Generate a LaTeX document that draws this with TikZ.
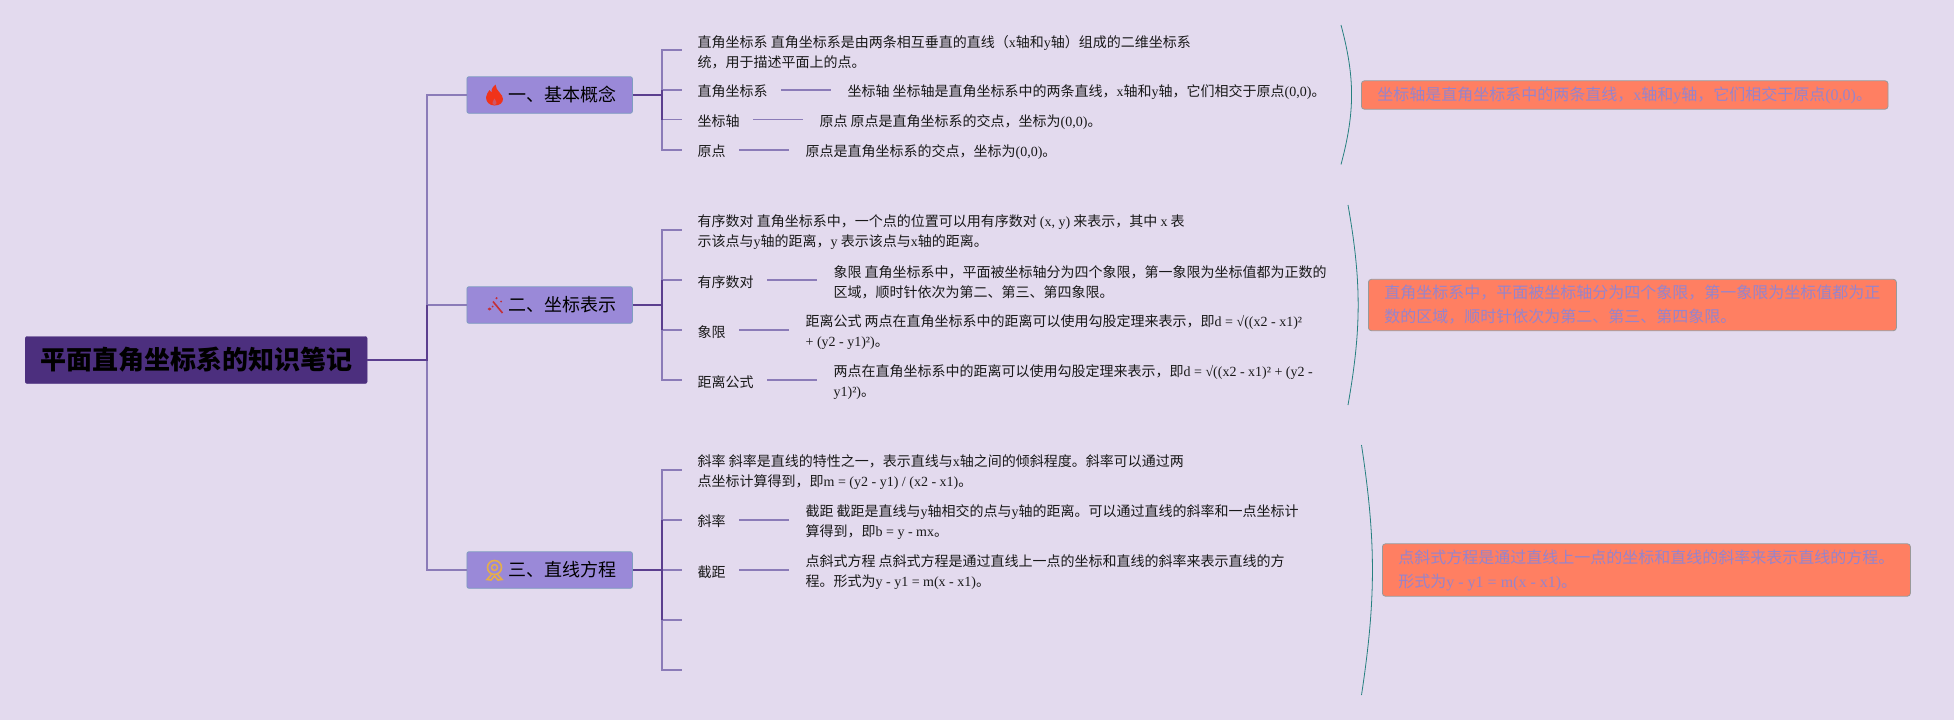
\documentclass[tikz,border=0pt]{standalone}
\usepackage{fontspec}
\usepackage{tikz}
\usetikzlibrary{positioning}
\setmainfont{Noto Sans CJK SC}
\newfontfamily\latinfont{Liberation Serif}
\newcommand{\lat}[1]{{\latinfont #1}}
\definecolor{paper}{HTML}{E3DAEE}
\definecolor{rootfill}{HTML}{4C2F7E}
\definecolor{branchfill}{HTML}{9A89D8}
\definecolor{branchdraw}{HTML}{7F9CC0}
\definecolor{notefill}{HTML}{FF7F62}
\definecolor{notetext}{HTML}{9684CC}
\definecolor{twigcolor}{HTML}{8B7BB8}
\definecolor{stemcolor}{HTML}{5B3E8E}
\definecolor{medal}{HTML}{E5AE4A}
\definecolor{flame}{HTML}{F0331A}
\definecolor{wand}{HTML}{C42F36}
\tikzstyle{rootbox} = [rectangle, rounded corners=2pt, fill=rootfill, draw=rootfill, anchor=west, inner xsep=15pt, minimum height=47pt, font=\fontsize{26}{32}\selectfont\bfseries, text=black]
\tikzstyle{branch} = [rectangle, rounded corners=2pt, fill=branchfill, draw=branchdraw, line width=0.8pt, anchor=west, inner sep=0pt, minimum width=165.5pt, minimum height=36.5pt, font=\fontsize{18}{24}\selectfont]
\tikzstyle{leaf} = [anchor=west, align=left, inner xsep=16pt, inner ysep=0pt, text=black!90, font=\fontsize{14}{20}\selectfont, execute at begin node={\rule{0pt}{17pt}}, execute at end node={\rule[-3pt]{0pt}{0pt}}]
\tikzstyle{tag} = [leaf, execute at end node={\rule[-3pt]{0pt}{0pt}\hspace{-2.5pt}}]
\tikzstyle{para} = [leaf, text height=37pt]
\tikzstyle{note} = [rectangle, rounded corners=3pt, fill=notefill, draw=gray!80, line width=0.8pt, anchor=west, align=left, inner xsep=16pt, inner ysep=0pt, text=notetext, font=\fontsize{16}{24}\selectfont]
\tikzstyle{twig} = [twigcolor, line width=1.6pt]
\tikzstyle{stem} = [stemcolor, line width=1.8pt]
\tikzstyle{brace} = [teal!70!gray, line width=0.8pt]
\begin{document}
\begin{tikzpicture}[x=1pt, y=-1pt, node distance=50pt]
    \useasboundingbox [fill=paper] (0,0) rectangle (1954,720);

    \node (0) [rootbox] at (25,360) {平面直角坐标系的知识笔记};
    \node (1) [branch] at (466.5,95) {\hspace{26pt}一、基本概念};
    \node (2) [branch] at (466.5,305) {\hspace{26pt}二、坐标表示};
    \node (3) [branch] at (466.5,570) {\hspace{26pt}三、直线方程};

    \node (10) [para] at (681.5,50) {直角坐标系 直角坐标系是由两条相互垂直的直线（\lat{x}轴和\lat{y}轴）组成的二维坐标系\\统，用于描述平面上的点。};
    \node (11) [tag] at (681.5,89.7) {直角坐标系};
    \node (12) [tag] at (681.5,119.5) {坐标轴};
    \node (13) [tag] at (681.5,149.7) {原点};
    \node (14) [leaf, right=of 11] {坐标轴 坐标轴是直角坐标系中的两条直线，\lat{x}轴和\lat{y}轴，它们相交于原点\lat{(0,0)}。};
    \node (15) [leaf, right=of 12] {原点 原点是直角坐标系的交点，坐标为\lat{(0,0)}。};
    \node (16) [leaf, right=of 13] {原点是直角坐标系的交点，坐标为\lat{(0,0)}。};

    \node (20) [para] at (681.5,229.7) {有序数对 直角坐标系中，一个点的位置可以用有序数对 \lat{(x, y)} 来表示，其中 \lat{x} 表\\示该点与\lat{y}轴的距离，\lat{y} 表示该点与\lat{x}轴的距离。};
    \node (21) [tag] at (681.5,280) {有序数对};
    \node (22) [tag] at (681.5,330) {象限};
    \node (23) [tag] at (681.5,380) {距离公式};
    \node (24) [para, right=of 21] {象限 直角坐标系中，平面被坐标轴分为四个象限，第一象限为坐标值都为正数的\\区域，顺时针依次为第二、第三、第四象限。};
    \node (25) [para, right=of 22] {距离公式 两点在直角坐标系中的距离可以使用勾股定理来表示，即\lat{d = √((x2 - x1)²}\\\lat{+ (y2 - y1)²)}。};
    \node (26) [para, right=of 23] {两点在直角坐标系中的距离可以使用勾股定理来表示，即\lat{d = √((x2 - x1)² + (y2 -}\\\lat{y1)²)}。};

    \node (30) [para] at (681.5,469.7) {斜率 斜率是直线的特性之一，表示直线与\lat{x}轴之间的倾斜程度。斜率可以通过两\\点坐标计算得到，即\lat{m = (y2 - y1) / (x2 - x1)}。};
    \node (31) [tag] at (681.5,519.7) {斜率};
    \node (32) [tag] at (681.5,570) {截距};
    \node (33) [para, right=of 31] {截距 截距是直线与\lat{y}轴相交的点与\lat{y}轴的距离。可以通过直线的斜率和一点坐标计\\算得到，即\lat{b = y - mx}。};
    \node (34) [para, right=of 32] {点斜式方程 点斜式方程是通过直线上一点的坐标和直线的斜率来表示直线的方\\程。形式为\lat{y - y1 = m(x - x1)}。};
    \coordinate (35) at (682,620);
    \coordinate (36) at (682,669.7);

    \node (17) [note, minimum width=525pt, minimum height=28.4pt] at (1361,95) {坐标轴是直角坐标系中的两条直线，\lat{x}轴和\lat{y}轴，它们相交于原点\lat{(0,0)}。};
    \node (27) [note, minimum width=527pt, minimum height=51.4pt] at (1368,305) {直角坐标系中，平面被坐标轴分为四个象限，第一象限为坐标值都为正\\数的区域，顺时针依次为第二、第三、第四象限。};
    \node (37) [note, minimum width=527pt, minimum height=52.4pt] at (1382,570) {点斜式方程是通过直线上一点的坐标和直线的斜率来表示直线的方程。\\形式为\lat{y - y1 = m(x - x1)}。};

    \coordinate (t) at (427,360);
    \coordinate (b1) at (662,95);
    \coordinate (b2) at (662,305);
    \coordinate (b3) at (662,570);

    \draw [twig] (t) |- (1.west);
    \draw [twig] (t) |- (2.west);
    \draw [twig] (t) |- (3.west);
    \draw [twig] (b1) |- (10.west);
    \draw [twig] (b1) |- (11.west);
    \draw [twig] (b1) |- (12.west);
    \draw [twig] (b1) |- (13.west);
    \draw [twig] (b2) |- (20.west);
    \draw [twig] (b2) |- (21.west);
    \draw [twig] (b2) |- (22.west);
    \draw [twig] (b2) |- (23.west);
    \draw [twig] (b3) |- (30.west);
    \draw [twig] (b3) |- (31.west);
    \draw [twig] (b3) -- (32.west);
    \draw [twig] (b3) |- (35);
    \draw [twig] (b3) |- (36);
    \draw [twig] (11) -- (14);
    \draw [twig] (12) -- (15);
    \draw [twig] (13) -- (16);
    \draw [twig] (21) -- (24);
    \draw [twig] (22) -- (25);
    \draw [twig] (23) -- (26);
    \draw [twig] (31) -- (33);
    \draw [twig] (32) -- (34);

    \draw [stem] (0.east) -- (t) -- (t |- 2.west);
    \draw [stem] (1.east) -- (b1) -- (b1 |- 11.west);
    \draw [stem] (b1) -- (b1 |- 12.west);
    \draw [stem] (2.east) -- (b2) -- (b2 |- 21.west);
    \draw [stem] (b2) -- (b2 |- 22.west);
    \draw [stem] (3.east) -- (b3) -- (b3 |- 31.west);
    \draw [stem] (b3) -- (b3 |- 35);

    \coordinate (a1) at (1341,25);
    \coordinate (a2) at (1341,164.5);
    \coordinate (c1) at (1348,205);
    \coordinate (c2) at (1348,405);
    \coordinate (e1) at (1361.5,445);
    \coordinate (e2) at (1361.5,695);
    \draw [brace] (a1) to[bend left=15] (a2);
    \draw [brace] (c1) to[bend left=10] (c2);
    \draw [brace] (e1) to[bend left=8.6] (e2);

    \begin{scope}[shift={(494.5,95)}]
        \fill [flame] (0,10.5) .. controls (-5,10.5) and (-8.5,7) .. (-8.5,2.5) .. controls (-8.5,-1) and (-6,-3) .. (-5,-5) .. controls (-4.5,-3.5) and (-4,-3) .. (-3,-2.5) .. controls (-3.5,-6) and (-1,-9) .. (1,-10.5) .. controls (1,-7) and (3,-5) .. (5,-2.5) .. controls (7,0) and (8.5,1.5) .. (8.5,4) .. controls (8.5,8) and (5,10.5) .. (0,10.5) -- cycle;
        \fill [flame!60!branchfill] (0,10) .. controls (-2,10) and (-2.5,8) .. (-1.8,7) .. controls (-1,6) and (-0.5,5) .. (0,3.5) .. controls (0.5,5) and (1,6) .. (1.8,7) .. controls (2.5,8) and (2,10) .. (0,10) -- cycle;
    \end{scope}
    \begin{scope}[shift={(494.5,305)}]
        \draw [wand, line width=1.6pt] (-1.5,-3.5) -- (8,8);
        \fill [wand] (-7,4) -- (-5,2.5) -- (-3,4) -- (-5,5.5) -- cycle;
        \fill [wand] (2,-8) -- (3.2,-6.8) -- (2,-5.6) -- (0.8,-6.8) -- cycle;
        \fill [wand] (6.5,-4.5) -- (7.5,-3.5) -- (6.5,-2.5) -- (5.5,-3.5) -- cycle;
        \fill [wand] (-2,0.5) -- (-1,1.5) -- (-2,2.5) -- (-3,1.5) -- cycle;
    \end{scope}
    \begin{scope}[shift={(494.5,570)}]
        \draw [medal, line width=1.6pt] (0,-2.5) circle (7);
        \draw [medal, line width=1.4pt] (0,-2.5) circle (3);
        \draw [medal, line width=1.6pt] (-3,4.5) -- (-7.5,9.5) -- (-3.5,10) -- (0,6) -- (3.5,10) -- (7.5,9.5) -- (3,4.5);
    \end{scope}
\end{tikzpicture}
\end{document}
